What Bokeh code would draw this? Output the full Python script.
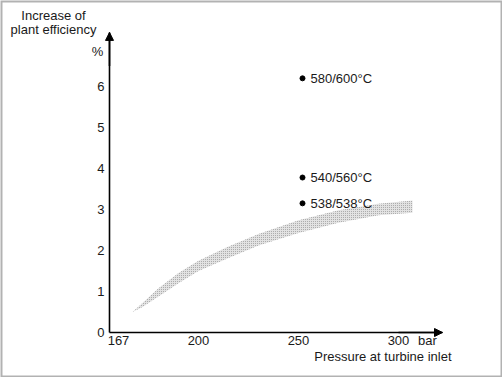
from bokeh.plotting import figure
from bokeh.models import Range1d, FixedTicker, Label, Arrow, NormalHead, BoxAnnotation, ColumnDataSource, LinearAxis
from bokeh.core.properties import value
from bokeh.embed import file_html
from bokeh.resources import INLINE

# ---- data ----
band_pressure = [167, 172, 180, 190, 200, 215, 230, 250, 270, 290, 307]
band_upper = [0.5, 0.72, 1.08, 1.45, 1.75, 2.1, 2.4, 2.74, 2.98, 3.14, 3.22]
band_lower = [0.5, 0.62, 0.88, 1.2, 1.5, 1.82, 2.12, 2.43, 2.68, 2.86, 2.92]

point_pressure = [252, 252, 252]
point_gain = [6.2, 3.78, 3.15]
point_labels = ["580/600°C", "540/560°C", "538/538°C"]

y_ticks = [0, 1, 2, 3, 4, 5, 6]
x_ticks = [200, 250, 300]

FONT = "Liberation Sans"
FS = "13px"
TXT = "#1a1a1a"

# axis extents (data units)
ax_x0, ax_x1 = 155.5, 322.0
ax_y0, ax_y1 = 0.0, 7.32
# whole canvas in data units
cx0, cx1 = 101.0, 352.0
cy0, cy1 = -1.0976, 8.098

p = figure(width=502, height=377, output_backend="svg", toolbar_location=None,
           x_range=Range1d(cx0, cx1), y_range=Range1d(cy0, cy1),
           x_axis_location=None, y_axis_location=None, min_border=0)
p.outline_line_color = None
p.background_fill_color = "white"
p.border_fill_color = "white"
p.grid.visible = False

yax = LinearAxis(fixed_location=ax_x0, bounds=(ax_y0, ax_y1), ticker=FixedTicker(ticks=y_ticks))
xax = LinearAxis(fixed_location=ax_y0, bounds=(ax_x0, ax_x1), ticker=FixedTicker(ticks=x_ticks))
for ax in (xax, yax):
    ax.axis_line_color = "black"
    ax.axis_line_width = 1.6
    ax.major_tick_line_color = None
    ax.minor_tick_line_color = None
    ax.major_tick_out = 0
    ax.major_tick_in = 0
    ax.minor_tick_out = 0
    ax.minor_tick_in = 0
    ax.major_label_text_font = FONT
    ax.major_label_text_font_size = FS
    ax.major_label_text_color = TXT
xax.major_label_standoff = 3
yax.major_label_standoff = 5
p.add_layout(yax, "left")
p.add_layout(xax, "below")

# axis arrow heads
p.add_layout(Arrow(end=NormalHead(size=8, fill_color="black", line_color="black"),
                   x_start=ax_x0, y_start=6.5, x_end=ax_x0, y_end=ax_y1,
                   line_color="black", line_width=1.6))
p.add_layout(Arrow(end=NormalHead(size=8, fill_color="black", line_color="black"),
                   x_start=300, y_start=0, x_end=ax_x1, y_end=0,
                   line_color="black", line_width=1.6))

# band
p.varea(x=band_pressure, y1=band_lower, y2=band_upper, fill_color="#e2e2e2",
        hatch_pattern="dot", hatch_color="#9c9c9c", hatch_scale=2, hatch_weight=1)

# points
src = ColumnDataSource(dict(x=point_pressure, y=point_gain, t=point_labels))
p.scatter("x", "y", source=src, size=5, color="black")
p.text("x", "y", text="t", source=src, x_offset=8, text_baseline="middle",
       text_font=value(FONT), text_font_size=FS, text_color=TXT)

def lab(x, y, t, align="center"):
    p.add_layout(Label(x=x, y=y, text=t, text_align=align, text_baseline="middle",
                       text_font=FONT, text_font_size=FS, text_color=TXT))

lab(127.5, 7.73, "Increase of")
lab(127.5, 7.39, "plant efficiency")
lab(149.5, 6.86, "%")
lab(160, -0.2, "167")
lab(314.5, -0.2, "bar")
lab(326.5, -0.585, "Pressure at turbine inlet", "right")

# outer frame
p.add_layout(BoxAnnotation(left=cx0, right=cx1, top=cy1, bottom=cy0,
                           fill_alpha=0, line_color="black", line_width=4))

open("out.html", "w").write(file_html(p, INLINE))
